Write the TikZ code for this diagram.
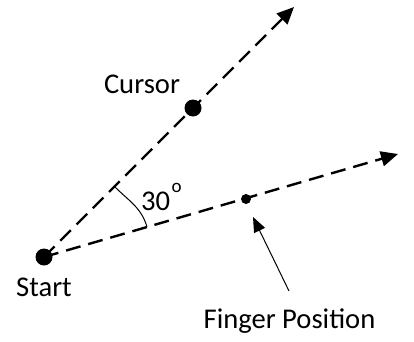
\documentclass[tikz,border=0pt]{standalone}
\usepackage{fontspec}
\setmainfont{Carlito}
\usetikzlibrary{arrows.meta}
\tikzset{
  dot/.style={circle,fill=black,inner sep=0pt,minimum size=#1},
  dashline/.style={line width=2.4pt,dash pattern=on 15pt off 8pt,-{Triangle[length=17pt,width=15pt]}},
  label/.style={anchor=base,inner sep=0pt,font=\fontsize{28.6pt}{32pt}\selectfont},
  pointer/.style={line width=1pt,-{Triangle[length=15pt,width=12pt]}}
}
\begin{document}
\begin{tikzpicture}[x=1pt,y=1pt]
\useasboundingbox[fill=white] (0,0) rectangle (414,341);
\node[dot=17pt] (S) at (44,84) {};
\node[dot=17pt] (C) at (193,233) {};
\node[dot=10pt] (F) at (246,142) {};
\coordinate (U) at (294,334);
\coordinate (L) at (398,187);
\coordinate (A) at (115,154);
\coordinate (B) at (147,114);
\coordinate (T) at (289,50);
\coordinate (P) at (253,124);
\draw[dashline] (S.center) -- (U);
\draw[dashline] (S.center) -- (L);
\draw[line width=1pt] (A) to[out=-45,in=106] (B);
\draw[pointer] (T) -- (P);
\node[label] (cur) at (142,248) {Cursor};
\node[label] (st) at (44,45) {Start};
\node[label] (fp) at (289.5,13) {Finger Position};
\node[label,anchor=base west] (ang) at (141,131) {30\hspace{1.5pt}\raisebox{18pt}{\fontsize{19pt}{19pt}\selectfont o}};
\end{tikzpicture}
\end{document}
